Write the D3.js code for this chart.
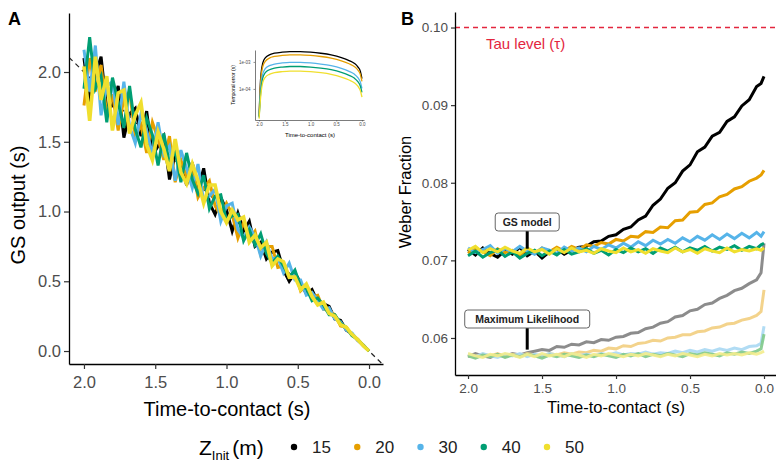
<!DOCTYPE html>
<html>
<head>
<meta charset="utf-8">
<script src="https://d3js.org/d3.v7.min.js"></script>
<style>
  body { margin: 0; background: #fff; }
  svg { font-family: "Liberation Sans", Arial, sans-serif; }
</style>
</head>
<body>
<div id="graph"></div>
<script>
// ---- data ----
const zInit = ["15", "20", "30", "40", "50"];
const colors = ["#000000", "#E69F00", "#56B4E9", "#009E73", "#F0DF2E"];
const mlColors = ["#808080", "#F2CE80", "#A9D8F3", "#7FC98A", "#F3EC8C"];

// panel A: GS output over time-to-contact
const timesA = [2.00,1.96,1.92,1.88,1.84,1.80,1.76,1.72,1.68,1.64,1.60,1.56,1.52,1.48,1.44,1.40,1.36,1.32,1.28,1.24,1.20,1.16,1.12,1.08,1.04,1.00,0.96,0.92,0.88,0.84,0.80,0.76,0.72,0.68,0.64,0.60,0.56,0.52,0.48,0.44,0.40,0.36,0.32,0.28,0.24,0.20,0.16,0.12,0.08,0.04,0.00];
const gsOut15 = [2.10,1.78,1.98,2.11,1.73,1.76,1.90,1.53,1.70,1.74,1.54,1.72,1.40,1.47,1.54,1.23,1.41,1.35,1.19,1.35,1.16,1.31,1.06,0.98,1.10,1.01,0.86,0.99,0.86,0.93,0.75,0.78,0.66,0.71,0.72,0.58,0.50,0.56,0.49,0.41,0.44,0.35,0.34,0.32,0.23,0.22,0.15,0.125,0.078,0.042,0];
const gsOut20 = [1.76,2.10,1.86,2.05,1.69,1.84,1.58,1.81,1.86,1.54,1.62,1.42,1.64,1.52,1.37,1.54,1.21,1.37,1.25,1.33,1.10,1.17,1.22,1.04,0.97,1.06,0.98,0.81,0.92,0.81,0.86,0.69,0.75,0.75,0.60,0.61,0.53,0.57,0.43,0.47,0.39,0.40,0.30,0.29,0.26,0.18,0.17,0.115,0.085,0.039,0];
const gsOut30 = [2.16,1.86,2.19,1.69,1.90,1.93,1.62,1.93,1.61,1.49,1.70,1.58,1.41,1.64,1.41,1.47,1.22,1.44,1.31,1.17,1.34,1.07,1.11,1.16,0.93,1.04,1.06,0.87,0.81,0.89,0.82,0.68,0.78,0.66,0.67,0.56,0.63,0.51,0.51,0.40,0.42,0.36,0.30,0.31,0.23,0.21,0.15,0.13,0.077,0.041,0];
const gsOut40 = [1.88,2.25,1.88,1.97,1.64,1.96,1.78,1.60,1.90,1.59,1.46,1.67,1.55,1.33,1.56,1.34,1.44,1.21,1.42,1.23,1.13,1.26,1.02,1.11,1.12,0.93,0.97,0.98,0.79,0.87,0.76,0.84,0.70,0.63,0.68,0.61,0.53,0.58,0.46,0.45,0.36,0.38,0.33,0.26,0.26,0.20,0.17,0.11,0.084,0.039,0];
const gsOut50 = [2.04,1.65,2.11,1.80,1.97,1.58,1.85,1.87,1.56,1.69,1.78,1.48,1.37,1.57,1.45,1.29,1.52,1.28,1.20,1.34,1.22,1.06,1.19,1.19,1.00,0.92,1.01,0.94,0.96,0.78,0.83,0.74,0.78,0.61,0.66,0.64,0.53,0.53,0.44,0.48,0.39,0.33,0.35,0.27,0.25,0.19,0.17,0.12,0.082,0.038,0];

// inset: temporal error (log10 s)
const timesInset = [2.0,1.97,1.93,1.88,1.8,1.7,1.55,1.4,1.2,1.0,0.8,0.6,0.4,0.25,0.15,0.08,0.03,0.0];
const errLog15 = [-5.0,-3.6,-3.05,-2.85,-2.74,-2.68,-2.64,-2.62,-2.62,-2.64,-2.68,-2.74,-2.84,-2.95,-3.05,-3.18,-3.35,-3.62];
const errLog20 = [-5.0,-3.75,-3.18,-2.98,-2.86,-2.80,-2.76,-2.74,-2.74,-2.76,-2.80,-2.86,-2.96,-3.07,-3.17,-3.3,-3.47,-3.72];
const errLog30 = [-5.05,-4.0,-3.45,-3.25,-3.14,-3.08,-3.04,-3.02,-3.02,-3.04,-3.08,-3.14,-3.24,-3.35,-3.45,-3.58,-3.75,-3.98];
const errLog40 = [-5.05,-4.15,-3.6,-3.4,-3.29,-3.23,-3.19,-3.17,-3.17,-3.19,-3.23,-3.29,-3.39,-3.5,-3.6,-3.73,-3.9,-4.13];
const errLog50 = [-5.1,-4.3,-3.77,-3.57,-3.46,-3.4,-3.36,-3.34,-3.34,-3.36,-3.4,-3.46,-3.56,-3.67,-3.77,-3.9,-4.07,-4.3];
const insetTicksX = [2.0, 1.5, 1.0, 0.5, 0.0];
const insetTicksY = [-3, -4];
const insetTickLabels = ["1e-03", "1e-04"];

// panel B: Weber fraction
const timesB = [2.00,1.95,1.90,1.85,1.80,1.75,1.70,1.65,1.60,1.55,1.50,1.45,1.40,1.35,1.30,1.25,1.20,1.15,1.10,1.05,1.00,0.95,0.90,0.85,0.80,0.75,0.70,0.65,0.60,0.55,0.50,0.45,0.40,0.35,0.30,0.25,0.20,0.15,0.10,0.05,0.02,0.00];
const gsWeber15 = [0.0714,0.0707,0.0716,0.0709,0.0704,0.0713,0.0708,0.0717,0.0706,0.0712,0.0703,0.0711,0.0715,0.0708,0.0713,0.0717,0.0718,0.0724,0.0725,0.0731,0.0733,0.0740,0.0743,0.0752,0.0757,0.0771,0.0779,0.0793,0.0800,0.0815,0.0823,0.0840,0.0846,0.0860,0.0865,0.0879,0.0885,0.0899,0.0907,0.0924,0.0928,0.0937];
const gsWeber20 = [0.0709,0.0716,0.0711,0.0706,0.0715,0.0710,0.0713,0.0707,0.0714,0.0709,0.0716,0.0711,0.0717,0.0712,0.0718,0.0714,0.0720,0.0718,0.0723,0.0721,0.0727,0.0725,0.0731,0.0730,0.0737,0.0736,0.0743,0.0742,0.0751,0.0752,0.0762,0.0763,0.0772,0.0774,0.0782,0.0785,0.0792,0.0795,0.0802,0.0806,0.0810,0.0816];
const gsWeber30 = [0.0716,0.0710,0.0714,0.0719,0.0709,0.0715,0.0711,0.0718,0.0712,0.0708,0.0716,0.0713,0.0709,0.0717,0.0712,0.0716,0.0711,0.0718,0.0714,0.0720,0.0716,0.0722,0.0717,0.0724,0.0719,0.0726,0.0721,0.0727,0.0722,0.0729,0.0724,0.0731,0.0726,0.0733,0.0727,0.0734,0.0728,0.0735,0.0729,0.0736,0.0731,0.0737];
const gsWeber40 = [0.0706,0.0712,0.0704,0.0710,0.0714,0.0705,0.0711,0.0703,0.0709,0.0713,0.0706,0.0712,0.0707,0.0714,0.0708,0.0711,0.0715,0.0709,0.0713,0.0707,0.0714,0.0710,0.0716,0.0711,0.0715,0.0709,0.0716,0.0712,0.0717,0.0711,0.0716,0.0713,0.0718,0.0712,0.0717,0.0714,0.0719,0.0713,0.0718,0.0715,0.0720,0.0722];
const gsWeber50 = [0.0713,0.0718,0.0710,0.0715,0.0711,0.0717,0.0712,0.0709,0.0716,0.0711,0.0714,0.0708,0.0715,0.0710,0.0716,0.0711,0.0713,0.0709,0.0715,0.0712,0.0710,0.0716,0.0711,0.0714,0.0709,0.0715,0.0712,0.0710,0.0716,0.0711,0.0714,0.0709,0.0715,0.0712,0.0710,0.0716,0.0711,0.0714,0.0712,0.0715,0.0713,0.0716];
const mlWeber15 = [0.0576,0.0580,0.0577,0.0575,0.0579,0.0576,0.0580,0.0578,0.0581,0.0583,0.0585,0.0584,0.0589,0.0588,0.0592,0.0591,0.0595,0.0594,0.0598,0.0597,0.0601,0.0602,0.0606,0.0607,0.0612,0.0614,0.0619,0.0621,0.0627,0.0629,0.0635,0.0637,0.0643,0.0645,0.0651,0.0655,0.0661,0.0664,0.0670,0.0675,0.0684,0.0722];
const mlWeber20 = [0.0578,0.0575,0.0579,0.0577,0.0580,0.0576,0.0579,0.0577,0.0580,0.0578,0.0576,0.0580,0.0578,0.0581,0.0579,0.0582,0.0581,0.0584,0.0583,0.0587,0.0586,0.0590,0.0589,0.0593,0.0594,0.0597,0.0596,0.0600,0.0601,0.0604,0.0604,0.0608,0.0609,0.0613,0.0614,0.0618,0.0619,0.0623,0.0625,0.0629,0.0634,0.0662];
const mlWeber30 = [0.0579,0.0576,0.0580,0.0577,0.0575,0.0579,0.0577,0.0580,0.0576,0.0579,0.0577,0.0580,0.0578,0.0576,0.0580,0.0577,0.0579,0.0577,0.0580,0.0578,0.0581,0.0578,0.0580,0.0579,0.0582,0.0579,0.0581,0.0580,0.0583,0.0581,0.0584,0.0582,0.0585,0.0583,0.0586,0.0584,0.0587,0.0585,0.0589,0.0590,0.0593,0.0615];
const mlWeber40 = [0.0577,0.0574,0.0578,0.0576,0.0579,0.0575,0.0578,0.0576,0.0579,0.0577,0.0574,0.0578,0.0576,0.0579,0.0577,0.0575,0.0578,0.0576,0.0579,0.0577,0.0575,0.0579,0.0577,0.0580,0.0576,0.0579,0.0577,0.0580,0.0578,0.0576,0.0580,0.0578,0.0581,0.0579,0.0577,0.0581,0.0579,0.0582,0.0580,0.0583,0.0586,0.0605];
const mlWeber50 = [0.0580,0.0577,0.0575,0.0579,0.0577,0.0580,0.0578,0.0575,0.0579,0.0576,0.0580,0.0577,0.0579,0.0576,0.0580,0.0578,0.0575,0.0579,0.0577,0.0580,0.0578,0.0576,0.0579,0.0577,0.0580,0.0578,0.0576,0.0579,0.0577,0.0580,0.0578,0.0576,0.0579,0.0577,0.0580,0.0578,0.0580,0.0578,0.0581,0.0579,0.0581,0.0583];

const tauLevel = 0.10;
const annotTime = 1.6;
const ticksTime = [2.0, 1.5, 1.0, 0.5, 0.0];
const ticksGS = [0.0, 0.5, 1.0, 1.5, 2.0];
const ticksWeber = [0.06, 0.07, 0.08, 0.09, 0.10];

const gsSeries = [gsOut15, gsOut20, gsOut30, gsOut40, gsOut50];
const errSeries = [errLog15, errLog20, errLog30, errLog40, errLog50];
const gsWeber = [gsWeber15, gsWeber20, gsWeber30, gsWeber40, gsWeber50];
const mlWeber = [mlWeber15, mlWeber20, mlWeber30, mlWeber40, mlWeber50];

const svgWidth = 776;
const svgHeight = 462;

const svg = d3.select('#graph')
  .append('svg')
  .attr('width', svgWidth)
  .attr('height', svgHeight);

const tickGrey = '#4d4d4d';

// ================= panel A =================
const xA = d3.scaleLinear().domain([2.105, -0.098]).range([69, 383]);
const yA = d3.scaleLinear().domain([-0.093, 2.423]).range([364, 13]);

svg.append('clipPath').attr('id', 'clipA')
  .append('rect').attr('x', 69).attr('y', 13).attr('width', 314).attr('height', 351);

const gA = svg.append('g').attr('clip-path', 'url(#clipA)');

// identity line
gA.append('line')
  .attr('x1', xA(2.105)).attr('y1', yA(2.105))
  .attr('x2', xA(-0.098)).attr('y2', yA(-0.098))
  .attr('stroke', '#222').attr('stroke-width', 1.2)
  .attr('stroke-dasharray', '5,4');

const lineA = d3.line()
  .x((d, i) => xA(timesA[i]))
  .y(d => yA(d));

gA.selectAll('.gsline')
  .data(gsSeries)
  .enter()
  .append('path')
  .attr('class', 'gsline')
  .attr('d', lineA)
  .attr('fill', 'none')
  .attr('stroke', (d, i) => colors[i])
  .attr('stroke-width', (d, i) => i == 4 ? 3.6 : 3)
  .attr('stroke-linejoin', 'miter');

// axes A
const axA_x = svg.append('g')
  .attr('transform', 'translate(0,364)')
  .call(d3.axisBottom(xA).tickValues(ticksTime).tickFormat(d3.format('.1f')).tickSize(5).tickSizeOuter(0));
const axA_y = svg.append('g')
  .attr('transform', 'translate(69,0)')
  .call(d3.axisLeft(yA).tickValues(ticksGS).tickFormat(d3.format('.1f')).tickSize(5).tickSizeOuter(0));

[axA_x, axA_y].forEach(ax => {
  ax.select('.domain').attr('stroke', '#000').attr('stroke-width', 1.3);
  ax.selectAll('.tick line').attr('stroke', '#333').attr('stroke-width', 1.2);
  ax.selectAll('.tick text').attr('fill', tickGrey).style('font-size', '16.5px');
});
axA_x.selectAll('.tick text').attr('dy', '0.95em');

svg.append('text')
  .attr('x', 227).attr('y', 416)
  .attr('text-anchor', 'middle')
  .style('font-size', '20px')
  .text('Time-to-contact (s)');
svg.append('text')
  .attr('transform', 'translate(25,205) rotate(-90)')
  .attr('text-anchor', 'middle')
  .style('font-size', '20px')
  .text('GS output (s)');
svg.append('text')
  .attr('x', 8).attr('y', 25)
  .style('font-size', '18px').style('font-weight', 'bold')
  .text('A');

// ---- inset ----
const xI = d3.scaleLinear().domain([2.08, -0.04]).range([255, 364]);
const yI = d3.scaleLinear().domain([-5.15, -2.56]).range([120, 50]);

const lineI = d3.line()
  .curve(d3.curveMonotoneX)
  .x((d, i) => xI(timesInset[i]))
  .y(d => yI(d));

svg.selectAll('.inset')
  .data(errSeries)
  .enter()
  .append('path')
  .attr('class', 'inset')
  .attr('d', lineI)
  .attr('fill', 'none')
  .attr('stroke', (d, i) => colors[i])
  .attr('stroke-width', 1.3);

const axI_x = svg.append('g')
  .attr('transform', 'translate(0,120)')
  .call(d3.axisBottom(xI).tickValues(insetTicksX).tickFormat(d3.format('.1f')).tickSize(1.5).tickSizeOuter(0));
const axI_y = svg.append('g')
  .attr('transform', 'translate(255,0)')
  .call(d3.axisLeft(yI).tickValues(insetTicksY).tickFormat((d, i) => insetTickLabels[i]).tickSize(1.5).tickSizeOuter(0));
[axI_x, axI_y].forEach(ax => {
  ax.select('.domain').attr('stroke', '#444').attr('stroke-width', 0.7);
  ax.selectAll('.tick line').attr('stroke', '#444').attr('stroke-width', 0.6);
  ax.selectAll('.tick text').attr('fill', tickGrey).style('font-size', '4.5px');
});
axI_x.selectAll('.tick text').attr('dy', '0.4em');
svg.append('text')
  .attr('x', 310).attr('y', 137)
  .attr('text-anchor', 'middle')
  .style('font-size', '6px')
  .text('Time-to-contact (s)');
svg.append('text')
  .attr('transform', 'translate(235,85) rotate(-90)')
  .attr('text-anchor', 'middle')
  .style('font-size', '5px')
  .text('Temporal error (s)');

// ================= panel B =================
const xB = d3.scaleLinear().domain([2.088, -0.081]).range([455, 776]);
const yB = d3.scaleLinear().domain([0.05523, 0.1020]).range([375, 12]);

const lineB = d3.line()
  .x((d, i) => xB(timesB[i]))
  .y(d => yB(d));

// tau level
svg.append('line')
  .attr('x1', 455).attr('x2', 776)
  .attr('y1', yB(tauLevel)).attr('y2', yB(tauLevel))
  .attr('stroke', '#E3263E').attr('stroke-width', 1.4)
  .attr('stroke-dasharray', '5,4');
svg.append('text')
  .attr('x', 486).attr('y', 49)
  .attr('fill', '#E3263E')
  .style('font-size', '15px')
  .text('Tau level (τ)');

// maximum likelihood (lighter)
svg.selectAll('.mlline')
  .data(mlWeber)
  .enter()
  .append('path')
  .attr('class', 'mlline')
  .attr('d', lineB)
  .attr('fill', 'none')
  .attr('stroke', (d, i) => mlColors[i])
  .attr('stroke-opacity', 0.9)
  .attr('stroke-width', 3);

// GS model
svg.selectAll('.gsweber')
  .data(gsWeber)
  .enter()
  .append('path')
  .attr('class', 'gsweber')
  .attr('d', lineB)
  .attr('fill', 'none')
  .attr('stroke', (d, i) => colors[i])
  .attr('stroke-width', 3);

// annotations
const annots = [
  {label: 'GS model', w: 64, boxY: 213, tip: 0.0715},
  {label: 'Maximum Likelihood', w: 125, boxY: 310, tip: 0.0585}
];
annots.forEach(a => {
  const cx = xB(annotTime);
  svg.append('line')
    .attr('x1', cx).attr('x2', cx)
    .attr('y1', a.boxY + 18).attr('y2', yB(a.tip))
    .attr('stroke', '#000').attr('stroke-width', 3);
  svg.append('rect')
    .attr('x', cx - a.w / 2).attr('y', a.boxY)
    .attr('width', a.w).attr('height', 18)
    .attr('rx', 3)
    .attr('fill', '#fff').attr('stroke', '#666').attr('stroke-width', 1);
  svg.append('text')
    .attr('x', cx).attr('y', a.boxY + 13)
    .attr('text-anchor', 'middle')
    .style('font-size', '10.5px').style('font-weight', 'bold')
    .attr('fill', '#222')
    .text(a.label);
});

// axes B
const axB_x = svg.append('g')
  .attr('transform', 'translate(0,375)')
  .call(d3.axisBottom(xB).tickValues(ticksTime).tickFormat(d3.format('.1f')).tickSize(4).tickSizeOuter(0));
const axB_y = svg.append('g')
  .attr('transform', 'translate(455,0)')
  .call(d3.axisLeft(yB).tickValues(ticksWeber).tickFormat(d3.format('.2f')).tickSize(4).tickSizeOuter(0));
[axB_x, axB_y].forEach(ax => {
  ax.select('.domain').attr('stroke', '#000').attr('stroke-width', 1.3);
  ax.selectAll('.tick line').attr('stroke', '#333').attr('stroke-width', 1.2);
  ax.selectAll('.tick text').attr('fill', tickGrey).style('font-size', '13.5px');
});
axB_x.selectAll('.tick text').attr('dy', '0.85em');

svg.append('text')
  .attr('x', 616).attr('y', 413)
  .attr('text-anchor', 'middle')
  .style('font-size', '16.5px')
  .text('Time-to-contact (s)');
svg.append('text')
  .attr('transform', 'translate(411,192) rotate(-90)')
  .attr('text-anchor', 'middle')
  .style('font-size', '16.5px')
  .text('Weber Fraction');
svg.append('text')
  .attr('x', 401).attr('y', 25)
  .style('font-size', '18px').style('font-weight', 'bold')
  .text('B');

// ================= legend =================
const legendTitle = svg.append('text')
  .attr('x', 199).attr('y', 455)
  .style('font-size', '21px');
legendTitle.append('tspan').text('Z');
legendTitle.append('tspan').attr('dy', 5).style('font-size', '13px').text('Init');
legendTitle.append('tspan').attr('dy', -5).attr('dx', 3).text('(m)');

const legX = d3.scalePoint().domain(zInit).range([294, 547]);
const leg = svg.selectAll('.leg')
  .data(zInit)
  .enter()
  .append('g')
  .attr('class', 'leg')
  .attr('transform', d => `translate(${legX(d)},447)`);
leg.append('circle')
  .attr('r', 3.2)
  .attr('fill', (d, i) => colors[i]);
leg.append('text')
  .attr('x', 18).attr('y', 6)
  .style('font-size', '17px')
  .attr('fill', '#222')
  .text(d => d);
</script>
</body>
</html>
